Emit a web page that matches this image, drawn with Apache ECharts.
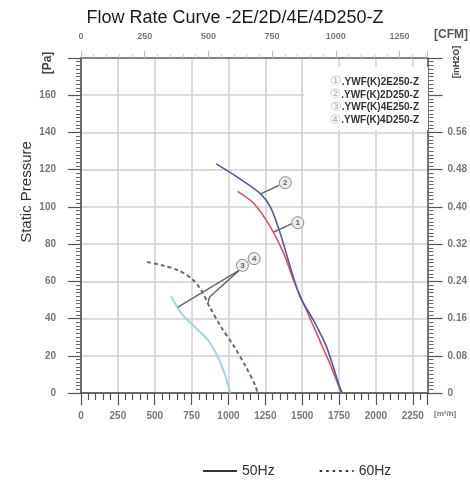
<!DOCTYPE html>
<html>
<head>
<meta charset="utf-8">
<script src="https://cdn.jsdelivr.net/npm/echarts@6/dist/echarts.min.js"></script>
<style>
  html, body { margin: 0; padding: 0; background: #fff; }
  #chart { width: 470px; height: 482px; }
</style>
</head>
<body>
<div id="chart"></div>
<script>
// flow rate in m³/h, static pressure in Pa
const flow1 = [1062, 1174, 1285, 1375, 1442, 1509, 1598, 1687, 1765]
const pres1 = [108.3, 101.7, 89.1, 74.9, 60.6, 48.1, 32.0, 15.9, 0]
const flow2 = [917, 1062, 1218, 1285, 1352, 1419, 1486, 1576, 1665, 1754, 1772]
const pres2 = [123.1, 115.9, 107.0, 99.9, 85.6, 67.7, 51.6, 39.1, 24.8, 3.4, 0]
const flow3 = [611, 682, 772, 861, 928, 973, 1006, 1010]
const pres3 = [52.0, 42.7, 35.5, 28.4, 19.5, 10.6, 1.6, 0]
const flow4 = [448, 548, 660, 749, 816, 872, 950, 1040, 1118, 1185, 1196]
const pres4 = [70.4, 68.6, 65.9, 61.5, 55.2, 46.3, 35.5, 24.8, 14.1, 3.4, 0]

const modelNames = ['YWF(K)2E250-Z', 'YWF(K)2D250-Z', 'YWF(K)4E250-Z', 'YWF(K)4D250-Z']
const markNames = ['①', '②', '③', '④']
const freqNames = ['50Hz', '60Hz']

// leader lines (data coords) and where the circled numbers sit
const leader1 = [[1308, 86.5], [1431, 91]]
const leader2 = [[1218, 107], [1342, 111.5]]
const leader3 = [[1074, 66], [655, 46]]
const leader4 = [[1074, 66], [872, 51.6], [861, 48.4]]
const tagPos = [[1470, 91.5], [1385, 113], [1095, 68.6], [1174, 72.2]]

function zip(xs, ys) {
  return xs.map((x, i) => [x, ys[i]])
}

function leaderSegs(pts) {
  let segs = []
  for (let i = 0; i < pts.length - 1; i++) {
    segs.push([{ coord: pts[i] }, { coord: pts[i + 1] }])
  }
  return segs
}

function tag(i) {
  return {
    symbol: 'circle',
    symbolSize: 12,
    silent: true,
    itemStyle: { color: '#ececec', borderColor: '#8a8a8a', borderWidth: 1 },
    label: { show: true, formatter: '{b}', color: '#666', fontSize: 8, fontWeight: 'bold' },
    data: [{ name: String(i + 1), coord: tagPos[i] }]
  }
}

function leader(pts) {
  return {
    symbol: ['none', 'none'],
    silent: true,
    label: { show: false },
    lineStyle: { color: '#6a6a6a', width: 1.5, type: 'solid' },
    data: leaderSegs(pts)
  }
}

const tickFont = { color: '#777', fontSize: 10, fontWeight: 'bold', fontFamily: 'Liberation Sans' }

const chart = echarts.init(document.getElementById('chart'))
chart.setOption({
  animation: false,
  backgroundColor: '#fff',
  title: {
    text: 'Flow Rate Curve -2E/2D/4E/4D250-Z',
    left: 'center',
    top: 4,
    textStyle: { fontSize: 18, fontWeight: 'normal', color: '#1a1a1a', fontFamily: 'Liberation Sans' }
  },
  legend: {
    data: freqNames,
    left: 197,
    top: 459,
    itemWidth: 34,
    itemHeight: 10,
    itemGap: 44,
    itemStyle: { opacity: 0 },
    textStyle: { fontSize: 14, color: '#333', fontFamily: 'Liberation Sans' }
  },
  grid: { left: 81, right: 38, top: 58, bottom: 89 },
  xAxis: [
    {
      type: 'value',
      position: 'bottom',
      min: 0,
      max: 2350,
      interval: 250,
      axisLine: { onZero: false, lineStyle: { color: '#444', width: 1.5 } },
      axisTick: { length: 12, lineStyle: { color: '#555', width: 1.2 } },
      minorTick: { show: true, splitNumber: 5, length: 7, lineStyle: { color: '#555', width: 1.2 } },
      axisLabel: Object.assign({ margin: 18, showMaxLabel: false, formatter: v => String(v) }, tickFont),
      splitLine: { show: true, lineStyle: { color: '#d0d0d0', width: 1.5 } }
    },
    {
      type: 'value',
      position: 'top',
      min: 0,
      max: 1360,
      interval: 250,
      axisLine: { onZero: false, lineStyle: { color: '#666', width: 1.5 } },
      axisTick: { length: 7, lineStyle: { color: '#bbb' } },
      minorTick: { show: true, splitNumber: 5, length: 4, lineStyle: { color: '#ccc' } },
      axisLabel: Object.assign({ margin: 17, showMaxLabel: false, formatter: v => String(v) }, tickFont, { fontSize: 9 }),
      splitLine: { show: false }
    }
  ],
  yAxis: [
    {
      type: 'value',
      position: 'left',
      min: 0,
      max: 180,
      interval: 20,
      axisLine: { show: true, onZero: false, lineStyle: { color: '#444', width: 1.5 } },
      axisTick: { show: true, length: 13, lineStyle: { color: '#555', width: 1.2 } },
      minorTick: { show: true, splitNumber: 10, length: 5, lineStyle: { color: '#666' } },
      axisLabel: Object.assign({
        margin: 25,
        formatter: v => (v === 180 ? '' : String(v))
      }, tickFont),
      splitLine: { show: true, lineStyle: { color: '#d0d0d0', width: 1.5 } }
    },
    {
      type: 'value',
      position: 'right',
      min: 0,
      max: 180,
      interval: 20,
      axisLine: { show: true, onZero: false, lineStyle: { color: '#555', width: 1.5 } },
      axisTick: { show: true, length: 15, lineStyle: { color: '#555', width: 1.2 } },
      minorTick: { show: true, splitNumber: 10, length: 6, lineStyle: { color: '#666' } },
      axisLabel: Object.assign({
        margin: 20,
        // Pa -> inH2O
        formatter: v => (v === 0 ? '0' : v >= 160 ? '' : (v / 250).toFixed(2))
      }, tickFont),
      splitLine: { show: false }
    }
  ],
  graphic: [
    { type: 'rect', z: 10, shape: { x: 304, y: 67, width: 124, height: 63 }, style: { fill: '#fff' } },
    ...modelNames.map((n, i) => ({
      type: 'text',
      z: 11,
      x: 419,
      y: 82 + i * 12.8,
      style: {
        text: '{c|' + markNames[i] + '}{t|.' + n + '}',
        align: 'right',
        verticalAlign: 'middle',
        fontSize: 10,
        fill: '#333',
        rich: {
          c: { fontSize: 13, fill: '#b5b5b5', fontFamily: 'DejaVu Sans' },
          t: { fontSize: 10, fill: '#333', fontWeight: 'bold', fontFamily: 'Liberation Sans' }
        }
      }
    })),
    {
      type: 'text', x: 27, y: 192, rotation: Math.PI / 2,
      style: { text: 'Static Pressure', align: 'center', verticalAlign: 'middle', fontSize: 15, fill: '#333', fontFamily: 'Liberation Sans' }
    },
    {
      type: 'text', x: 48, y: 63, rotation: Math.PI / 2,
      style: { text: '[Pa]', align: 'center', verticalAlign: 'middle', fontSize: 12, fontWeight: 'bold', fill: '#444', fontFamily: 'Liberation Sans' }
    },
    {
      type: 'text', x: 457, y: 62, rotation: Math.PI / 2,
      style: { text: '[inH2O]', align: 'center', verticalAlign: 'middle', fontSize: 9, fontWeight: 'bold', fill: '#444', fontFamily: 'Liberation Sans' }
    },
    {
      type: 'text', x: 434, y: 35,
      style: { text: '[CFM]', align: 'left', verticalAlign: 'middle', fontSize: 12, fontWeight: 'bold', fill: '#555', fontFamily: 'Liberation Sans' }
    },
    {
      type: 'text', x: 434, y: 414,
      style: { text: '[m³/h]', align: 'left', verticalAlign: 'middle', fontSize: 8, fontWeight: 'bold', fill: '#777', fontFamily: 'Liberation Sans' }
    }
  ],
  series: [
    {
      name: modelNames[0],
      type: 'line',
      smooth: 0.3,
      symbol: 'none',
      data: zip(flow1, pres1),
      lineStyle: { color: '#d05868', width: 1.6 },
      markLine: leader(leader1),
      markPoint: tag(0)
    },
    {
      name: modelNames[1],
      type: 'line',
      smooth: 0.3,
      symbol: 'none',
      data: zip(flow2, pres2),
      lineStyle: { color: '#55589a', width: 1.6 },
      markLine: leader(leader2),
      markPoint: tag(1)
    },
    {
      name: modelNames[2],
      type: 'line',
      smooth: 0.3,
      symbol: 'none',
      data: zip(flow3, pres3),
      lineStyle: { color: '#a6d3e4', width: 2 },
      markLine: leader(leader3),
      markPoint: tag(2)
    },
    {
      name: modelNames[3],
      type: 'line',
      smooth: 0.3,
      symbol: 'none',
      data: zip(flow4, pres4),
      lineStyle: { color: '#7b6658', width: 2, type: [4, 3] },
      markLine: leader(leader4),
      markPoint: tag(3)
    },
    {
      name: freqNames[0],
      type: 'line',
      symbol: 'none',
      color: '#333',
      data: [],
      lineStyle: { color: '#333', width: 1.5 }
    },
    {
      name: freqNames[1],
      type: 'line',
      symbol: 'none',
      color: '#333',
      data: [],
      lineStyle: { color: '#333', width: 2.5, type: [2.5, 4] }
    }
  ]
})
</script>
</body>
</html>
